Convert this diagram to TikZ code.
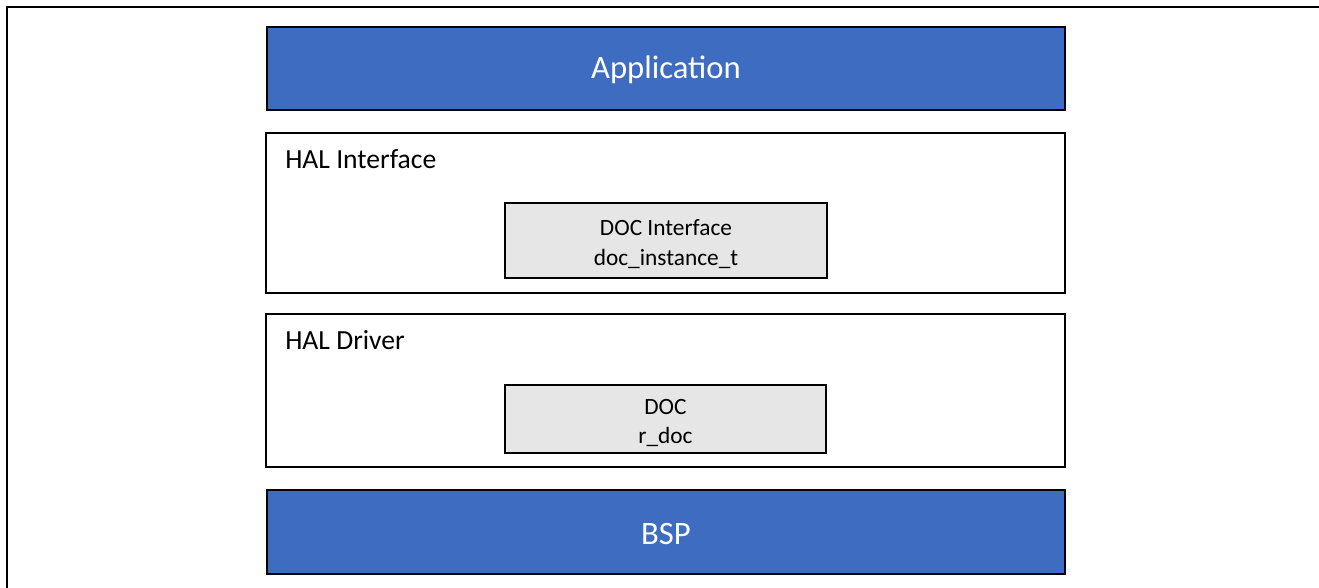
\documentclass[tikz,border=0pt]{standalone}
\usepackage{fontspec}
\setmainfont{Carlito}
\definecolor{layerblue}{RGB}{62,108,192}
\definecolor{modgray}{RGB}{231,230,230}
\def\pxu{0.75pt}
\begin{document}
\begin{tikzpicture}[x=0.75pt,y=-0.75pt,
  box/.style={draw=black,line width=1.8pt,rectangle,inner sep=0pt},
  bluebox/.style={box,fill=layerblue},
  bluetext/.style={inner sep=0pt,text=white,font=\fontsize{24.5}{29}\selectfont},
  layerbox/.style={box,fill=white},
  modbox/.style={box,fill=modgray},
  modtext/.style={inner sep=0pt,text=black,align=center,font=\fontsize{17.5}{22}\selectfont},
  layerlabel/.style={anchor=west,inner sep=0pt,text=black,font=\fontsize{20.7}{25}\selectfont}]
\useasboundingbox (0,0) rectangle (1319,587);
\fill[white] (0,0) rectangle (1319,587);
% outer frame (cropped)
\coordinate (fbl) at (7,600);
\coordinate (ftl) at (7,7);
\coordinate (ftr) at (1330,7);
\draw[line width=2pt] (fbl) -- (ftl) -- (ftr);
% layers
\node[bluebox,minimum width=798*\pxu,minimum height=83*\pxu] (app) at (666,68.5) {};
\node[bluetext] (apptext) at (666,70) {Application};
\node[layerbox,minimum width=799*\pxu,minimum height=160*\pxu] (halif) at (665.5,213) {};
\node[layerlabel] (haliflabel) at (285,159) {HAL Interface};
\node[modbox,minimum width=322*\pxu,minimum height=75*\pxu] (docif) at (666,240.5) {};
\node[modtext] (dociftext) at (666,244) {DOC Interface\\doc\_instance\_t};
\node[layerbox,minimum width=799*\pxu,minimum height=153*\pxu] (haldrv) at (665.5,390.5) {};
\node[layerlabel] (haldrvlabel) at (285,340) {HAL Driver};
\node[modbox,minimum width=321*\pxu,minimum height=68*\pxu] (doc) at (665.5,419) {};
\node[modtext] (doctext) at (665.5,423) {DOC\\r\_doc};
\node[bluebox,minimum width=798*\pxu,minimum height=84*\pxu] (bsp) at (666,532) {};
\node[bluetext] (bsptext) at (666,534) {BSP};
\end{tikzpicture}
\end{document}
